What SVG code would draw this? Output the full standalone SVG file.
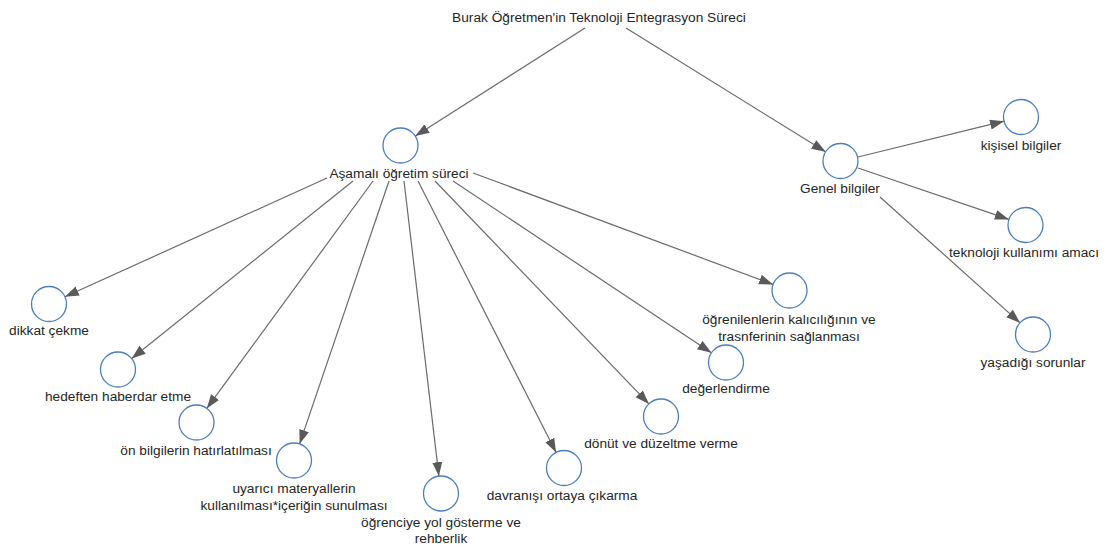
<svg xmlns="http://www.w3.org/2000/svg" width="1106" height="550" viewBox="0 0 1106 550">
<style>
.bg{fill:#ffffff}
.edge{stroke:#6b6b6b;stroke-width:1.2;fill:none;marker-end:url(#arr)}
.node{fill:#ffffff;stroke:#4a7fbf;stroke-width:1.3}
text{font-family:"Liberation Sans",Arial,sans-serif;font-size:13.7px;fill:#262626;text-anchor:middle}
</style>
<defs>
<marker id="arr" markerUnits="userSpaceOnUse" markerWidth="16" markerHeight="12" refX="14" refY="5" orient="auto">
<path d="M0,0 L14,5 L0,10 Z" fill="#5a5a5a"/>
</marker>
</defs>
<rect class="bg" x="0" y="0" width="1106" height="550"/>
<g id="connectors">
<line class="edge" x1="585" y1="28" x2="415.3" y2="136.1"/>
<line class="edge" x1="626" y1="28" x2="825.6" y2="151.8"/>
<line class="edge" x1="858" y1="157" x2="1004" y2="121.2"/>
<line class="edge" x1="858" y1="168" x2="1008.9" y2="219.4"/>
<line class="edge" x1="880" y1="197" x2="1020" y2="322.8"/>
<line class="edge" x1="327" y1="178" x2="64.9" y2="296.8"/>
<line class="edge" x1="353" y1="181" x2="131.7" y2="358.5"/>
<line class="edge" x1="373" y1="181" x2="206.8" y2="408.4"/>
<line class="edge" x1="389" y1="181" x2="299.6" y2="443.9"/>
<line class="edge" x1="404" y1="181" x2="438.9" y2="476.1"/>
<line class="edge" x1="418" y1="181" x2="556.1" y2="452.4"/>
<line class="edge" x1="435" y1="181" x2="648.9" y2="403.9"/>
<line class="edge" x1="453" y1="181" x2="711.4" y2="352.8"/>
<line class="edge" x1="473" y1="173" x2="773.1" y2="284.4"/>
</g>
<g id="root">
<text x="599" y="22">Burak Öğretmen'in Teknoloji Entegrasyon Süreci</text>
</g>
<g id="asamali">
<circle class="node" cx="400.5" cy="145.5" r="17.5"/>
<text x="399" y="178">Aşamalı öğretim süreci</text>
</g>
<g id="genel">
<circle class="node" cx="840.5" cy="161" r="17.5"/>
<text x="840" y="193">Genel bilgiler</text>
</g>
<g id="kisisel">
<circle class="node" cx="1021" cy="117" r="17.5"/>
<text x="1021" y="150">kişisel bilgiler</text>
</g>
<g id="teknoloji">
<circle class="node" cx="1025.5" cy="225" r="17.5"/>
<text x="1024" y="257">teknoloji kullanımı amacı</text>
</g>
<g id="yasadigi">
<circle class="node" cx="1033" cy="334.5" r="17.5"/>
<text x="1033" y="367">yaşadığı sorunlar</text>
</g>
<g id="dikkat">
<circle class="node" cx="49" cy="304" r="17.5"/>
<text x="49" y="335">dikkat çekme</text>
</g>
<g id="hedeften">
<circle class="node" cx="118" cy="369.5" r="17.5"/>
<text x="118" y="401">hedeften haberdar etme</text>
</g>
<g id="onbilgi">
<circle class="node" cx="196.5" cy="422.5" r="17.5"/>
<text x="196" y="455">ön bilgilerin hatırlatılması</text>
</g>
<g id="uyarici">
<circle class="node" cx="294" cy="460.5" r="17.5"/>
<text x="294" y="493">uyarıcı materyallerin</text>
<text x="294" y="510">kullanılması*içeriğin sunulması</text>
</g>
<g id="ogrenciye">
<circle class="node" cx="441" cy="493.5" r="17.5"/>
<text x="441" y="527">öğrenciye yol gösterme ve</text>
<text x="441" y="543">rehberlik</text>
</g>
<g id="davranisi">
<circle class="node" cx="564" cy="468" r="17.5"/>
<text x="562" y="500">davranışı ortaya çıkarma</text>
</g>
<g id="donut">
<circle class="node" cx="661" cy="416.5" r="17.5"/>
<text x="661" y="448">dönüt ve düzeltme verme</text>
</g>
<g id="degerlendirme">
<circle class="node" cx="726" cy="362.5" r="17.5"/>
<text x="726" y="393">değerlendirme</text>
</g>
<g id="ogrenilenler">
<circle class="node" cx="789.5" cy="290.5" r="17.5"/>
<text x="789" y="324">öğrenilenlerin kalıcılığının ve</text>
<text x="789" y="341">trasnferinin sağlanması</text>
</g>
</svg>
